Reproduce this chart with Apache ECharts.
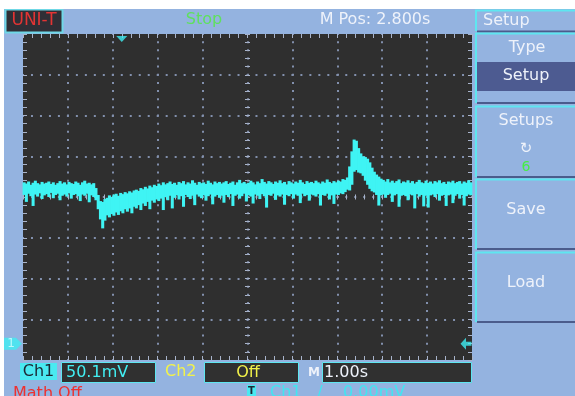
<!DOCTYPE html>
<html>
<head>
<meta charset="utf-8">
<script src="https://cdn.jsdelivr.net/npm/echarts@6/dist/echarts.min.js"></script>
<style>
  html, body { margin: 0; padding: 0; background: #ffffff; }
  #scope { width: 575px; height: 396px; }
</style>
</head>
<body>
<div id="scope"></div>
<script>
// CH1 capture: 1.00 s/div over 10 divisions, 50.1 mV/div over 8 divisions.
// Each column holds the min/max of the trace (in divisions from screen centre).
const timeStart = -5;     // s, left edge of the record
const sampleStep = 0.05;  // s per display column

const traceHigh = [
  0.36, 0.33, 0.38, 0.30, 0.35, 0.40, 0.34, 0.31, 0.37, 0.33,
  0.35, 0.38, 0.32, 0.36, 0.30, 0.34, 0.39, 0.33, 0.36, 0.31,
  0.37, 0.34, 0.32, 0.38, 0.35, 0.30, 0.36, 0.40, 0.33, 0.35,
  0.31, 0.34, 0.22, 0.05, -0.10, -0.12, -0.05, -0.02, 0.04, 0.00,
  0.06, 0.08, 0.03, 0.10, 0.07, 0.12, 0.09, 0.14, 0.11, 0.16,
  0.18, 0.15, 0.22, 0.19, 0.25, 0.21, 0.28, 0.24, 0.30, 0.27,
  0.33, 0.29, 0.36, 0.31, 0.34, 0.38, 0.32, 0.35, 0.30, 0.37,
  0.34, 0.39, 0.31, 0.36, 0.33, 0.41, 0.35, 0.30, 0.37, 0.34,
  0.36, 0.32, 0.40, 0.35, 0.31, 0.38, 0.34, 0.37, 0.33, 0.36,
  0.39, 0.32, 0.35, 0.38, 0.30, 0.36, 0.42, 0.34, 0.37, 0.33,
  0.35, 0.40, 0.36, 0.31, 0.38, 0.34, 0.44, 0.37, 0.33, 0.39,
  0.36, 0.32, 0.38, 0.35, 0.41, 0.34, 0.37, 0.31, 0.39, 0.36,
  0.33, 0.38, 0.35, 0.42, 0.36, 0.32, 0.39, 0.35, 0.37, 0.34,
  0.40, 0.36, 0.33, 0.38, 0.35, 0.43, 0.37, 0.34, 0.39, 0.36,
  0.40, 0.38, 0.44, 0.42, 0.48, 0.75, 1.12, 1.41, 1.38, 1.20,
  1.07, 1.00, 0.98, 0.94, 0.85, 0.72, 0.62, 0.55, 0.50, 0.45,
  0.42, 0.38, 0.44, 0.36, 0.40, 0.35, 0.39, 0.43, 0.34, 0.38,
  0.36, 0.41, 0.35, 0.39, 0.33, 0.37, 0.42, 0.36, 0.34, 0.40,
  0.35, 0.38, 0.33, 0.39, 0.36, 0.41, 0.34, 0.37, 0.32, 0.38,
  0.36, 0.40, 0.34, 0.37, 0.39, 0.33, 0.38, 0.35, 0.41, 0.36
];

const traceLow = [
  0.05, -0.12, 0.08, 0.02, -0.22, 0.06, 0.01, 0.09, -0.05, 0.04,
  0.07, 0.00, 0.10, -0.03, 0.05, 0.08, -0.08, 0.03, 0.06, 0.01,
  0.09, -0.04, 0.05, 0.07, 0.02, -0.10, 0.06, 0.03, 0.08, -0.13,
  0.04, 0.00, -0.08, -0.30, -0.55, -0.77, -0.58, -0.45, -0.50, -0.42,
  -0.46, -0.38, -0.44, -0.35, -0.40, -0.30, -0.36, -0.28, -0.40, -0.24,
  -0.28, -0.20, -0.32, -0.16, -0.22, -0.12, -0.30, -0.09, -0.14, -0.06,
  -0.10, -0.04, -0.32, 0.00, -0.08, 0.03, -0.28, -0.02, 0.04, -0.06,
  0.02, -0.24, 0.05, 0.00, -0.05, 0.03, -0.20, 0.06, 0.01, -0.03,
  0.04, -0.09, 0.02, 0.06, -0.18, 0.01, 0.05, -0.02, 0.03, -0.14,
  0.05, 0.00, 0.07, -0.22, 0.03, 0.06, -0.04, 0.02, 0.08, -0.11,
  0.04, 0.01, -0.16, 0.06, 0.03, -0.05, 0.07, 0.02, -0.26, 0.05,
  0.03, 0.08, -0.07, 0.04, 0.01, 0.06, -0.19, 0.05, 0.02, 0.07,
  -0.04, 0.06, 0.03, -0.15, 0.08, 0.02, 0.05, -0.09, 0.06, 0.04,
  0.01, 0.07, -0.21, 0.05, 0.03, 0.08, -0.06, 0.04, -0.17, 0.06,
  0.05, 0.09, 0.07, 0.12, 0.18, 0.16, 0.30, 0.62, 0.66, 0.60,
  0.58, 0.52, 0.40, 0.30, 0.20, 0.14, 0.11, 0.05, -0.21, 0.04,
  0.06, -0.02, 0.05, 0.08, -0.12, 0.04, 0.07, -0.24, 0.03, 0.05,
  0.02, -0.08, 0.06, 0.04, -0.28, 0.07, 0.01, 0.05, -0.23, 0.03,
  -0.26, 0.04, 0.06, 0.00, 0.07, -0.09, 0.03, 0.05, -0.22, 0.04,
  0.06, -0.15, 0.03, 0.07, -0.04, 0.05, -0.21, 0.02, 0.06, 0.04
];

const triggerTime = -2.8;   // horizontal position of the trigger point, s
const ch1Ground = -3.6;     // CH1 ground reference, divisions
const triggerLevel = -3.6;  // trigger level (0.00 mV), divisions

// Status texts
const brand = 'UNI-T';
const runState = 'Stop';
const posText = 'M Pos: 2.800s';
const menuTitle = 'Setup';
const menuItems = ['Type', 'Setup', 'Setups', 'Save', 'Load'];
const setupSlot = '6';
const ch1Scale = '50.1mV';
const ch2State = 'Off';
const timeBase = '1.00s';
const mathState = 'Math Off';
const trigLevelText = '0.00mV';

const traceColor = '#3ff4f4';
const cyan = '#5ee6f0';
const dotColor = '#8290ad';
const tickColor = '#a9b4cb';
const panelBlue = '#94b3e0';
const darkLine = '#4b5c8c';
const font = '"DejaVu Sans", sans-serif';

const traceData = traceHigh.map((h, i) => [timeStart + (i + 0.5) * sampleStep, traceLow[i], h]);

const hidden = { show: false };
function edgeAxis(extra) {
  return Object.assign({
    type: 'value',
    axisLine: { show: false, onZero: false },
    axisLabel: hidden,
    axisTick: { show: true, inside: true, length: 4, lineStyle: { color: tickColor, width: 1 } },
    minorTick: { show: true, splitNumber: 5, length: 4, lineStyle: { color: tickColor, width: 1 } },
    splitLine: hidden
  }, extra);
}
function centreAxis(extra, inside) {
  return Object.assign({
    type: 'value',
    axisLine: { show: false, onZero: true, onZeroAxisIndex: 0 },
    axisLabel: hidden,
    axisTick: { show: true, inside: inside, length: 2.5, lineStyle: { color: tickColor, width: 1 } },
    minorTick: { show: true, splitNumber: 5, length: 2.5, lineStyle: { color: tickColor, width: 1 } },
    splitLine: hidden
  }, extra);
}
const xr = { min: -5, max: 5, interval: 1 };
const yr = { min: -4, max: 4, interval: 1 };

function txt(x, y, s, color, opts) {
  const st = Object.assign({
    text: s, fill: color, font: '16px ' + font,
    textAlign: 'left', align: 'left',
    textVerticalAlign: 'middle', verticalAlign: 'middle'
  }, opts || {});
  if (st.textAlign) st.align = st.textAlign;
  return { type: 'text', x: x, y: y, z: 20, style: st };
}
function box(x, y, w, h, fill, stroke, lw) {
  return { type: 'rect', z: 10, shape: { x: x, y: y, width: w, height: h },
           style: { fill: fill, stroke: stroke || null, lineWidth: lw || 0 } };
}
function hline(x1, x2, y, color, lw) {
  return { type: 'line', z: 12, shape: { x1: x1, y1: y, x2: x2, y2: y }, style: { stroke: color, lineWidth: lw } };
}
function vline(x, y1, y2, color, lw) {
  return { type: 'line', z: 12, shape: { x1: x, y1: y1, x2: x, y2: y2 }, style: { stroke: color, lineWidth: lw } };
}

// Softkey menu panels: [top, bottom]
const panels = [[33, 103], [106, 177], [179, 249], [252, 322]];
const menuGraphics = [];
// title strip
menuGraphics.push(hline(475, 575, 10.5, cyan, 2));
menuGraphics.push(vline(476, 10, 31, cyan, 2));
menuGraphics.push(hline(477, 575, 31.5, darkLine, 2));
panels.forEach(p => {
  menuGraphics.push(hline(475, 575, p[0] + 0.5, cyan, 2));
  menuGraphics.push(vline(476, p[0], p[1], cyan, 2));
  menuGraphics.push(hline(477, 575, p[1], darkLine, 2));
});
menuGraphics.push(box(477, 62, 98, 29, '#4d5b91'));
const white = '#eef2fa';
const centred = { textAlign: 'center' };
menuGraphics.push(txt(483, 21, menuTitle, white));
menuGraphics.push(txt(527, 48, menuItems[0], white, centred));
menuGraphics.push(txt(526, 76, menuItems[1], white, centred));
menuGraphics.push(txt(526, 121, menuItems[2], white, centred));
menuGraphics.push(txt(526, 149, '\u21bb', white, { textAlign: 'center', font: '15px ' + font }));
menuGraphics.push(txt(526, 167, setupSlot, '#45ee45', { textAlign: 'center', font: '14px ' + font }));
menuGraphics.push(txt(526, 210, menuItems[3], white, centred));
menuGraphics.push(txt(526, 283, menuItems[4], white, centred));

const statusGraphics = [
  // white margin around the screen capture
  { type: 'rect', z: 30, shape: { x: 0, y: 0, width: 575, height: 9 }, style: { fill: '#ffffff' } },
  { type: 'rect', z: 30, shape: { x: 0, y: 0, width: 4, height: 396 }, style: { fill: '#ffffff' } },
  // brand badge
  box(5.5, 9.5, 57, 23, '#2f2f36', '#6fd8e6', 2),
  txt(34, 21, brand, '#e23434', { textAlign: 'center', font: '17px ' + font }),
  txt(204, 20, runState, '#5fe05f', centred),
  txt(375, 20, posText, white, centred),
  // bottom channel bar
  box(20, 363, 37, 17, '#4ae9f1'),
  txt(38.5, 372, 'Ch1', '#1c2834', centred),
  box(61.5, 362.5, 94, 20, '#303030', cyan, 1),
  txt(66, 372.5, ch1Scale, '#42eef2'),
  txt(165, 372, 'Ch2', '#f2f24a'),
  box(204.5, 362.5, 94, 20, '#303030', cyan, 1),
  txt(248, 372.5, ch2State, '#f2f24a', centred),
  txt(314, 372.5, 'M', white, { textAlign: 'center', font: 'bold 12px ' + font }),
  box(322.5, 362.5, 149, 20, '#303030', cyan, 1),
  txt(324, 372.5, timeBase, white),
  txt(13, 394, mathState, '#ee3030'),
  box(247, 385, 9, 11, '#4ae9f1'),
  txt(251.5, 391, 'T', '#1c2834', { textAlign: 'center', font: 'bold 10px ' + font }),
  txt(270, 393, 'Ch1', '#42e6f0'),
  txt(320, 393, '/', '#42e6f0', centred),
  txt(343, 393, trigLevelText, '#42e6f0')
];

const chart = echarts.init(document.getElementById('scope'), null, { renderer: 'canvas' });
chart.setOption({
  backgroundColor: panelBlue,
  animation: false,
  grid: {
    left: 23, right: 103, top: 34, bottom: 36,
    show: true, backgroundColor: '#2f2f2f', borderWidth: 0
  },
  xAxis: [
    edgeAxis(Object.assign({ position: 'bottom',
      splitLine: { show: true, showMinLine: false, showMaxLine: false,
        lineStyle: { color: dotColor, width: 2, type: [2, 6.15], dashOffset: 1 } } }, xr)),
    edgeAxis(Object.assign({ position: 'top' }, xr)),
    centreAxis(Object.assign({ position: 'bottom' }, xr), true),
    centreAxis(Object.assign({ position: 'bottom' }, xr), false)
  ],
  yAxis: [
    edgeAxis(Object.assign({ position: 'left',
      splitLine: { show: true, showMinLine: false, showMaxLine: false,
        lineStyle: { color: dotColor, width: 2, type: [2, 6.98], dashOffset: 1 } } }, yr)),
    edgeAxis(Object.assign({ position: 'right' }, yr)),
    centreAxis(Object.assign({ position: 'left' }, yr), true),
    centreAxis(Object.assign({ position: 'left' }, yr), false)
  ],
  series: [
    {
      name: 'CH1',
      type: 'custom',
      xAxisIndex: 0, yAxisIndex: 0,
      data: traceData,
      encode: { x: 0, y: [1, 2] },
      z: 5,
      renderItem: function (params, api) {
        const t = api.value(0), lo = api.value(1), hi = api.value(2);
        const a = api.coord([t - sampleStep / 2, hi]);
        const b = api.coord([t + sampleStep / 2, lo]);
        // columns overlap slightly so neighbouring samples merge into one band
        return {
          type: 'rect',
          shape: { x: a[0] - 0.4, y: a[1], width: b[0] - a[0] + 0.8, height: Math.max(b[1] - a[1], 1) },
          style: { fill: traceColor }
        };
      }
    },
    {
      name: 'markers',
      type: 'scatter',
      xAxisIndex: 0, yAxisIndex: 0,
      clip: false,
      z: 8,
      silent: true,
      data: [
        { value: [triggerTime, 4], symbol: 'triangle', symbolRotate: 180, symbolSize: [11, 6], symbolOffset: [0, 5] },
        { value: [-5, ch1Ground], symbol: 'path://M0,0 L12,0 L18,6 L12,12 L0,12 Z', symbolSize: [18, 12], symbolOffset: [-10, 0],
          label: { show: true, formatter: '1', color: '#d9ffff', fontSize: 12, fontFamily: font, position: 'inside', offset: [-2, 0] } },
        { value: [5, triggerLevel], symbol: 'path://M0,6 L6,0 L6,4 L12,4 L12,8 L6,8 L6,12 Z', symbolSize: [11, 12], symbolOffset: [-6, 0] }
      ],
      itemStyle: { color: '#40eef2' }
    }
  ],
  graphic: { elements: statusGraphics.concat(menuGraphics) }
});
</script>
</body>
</html>
